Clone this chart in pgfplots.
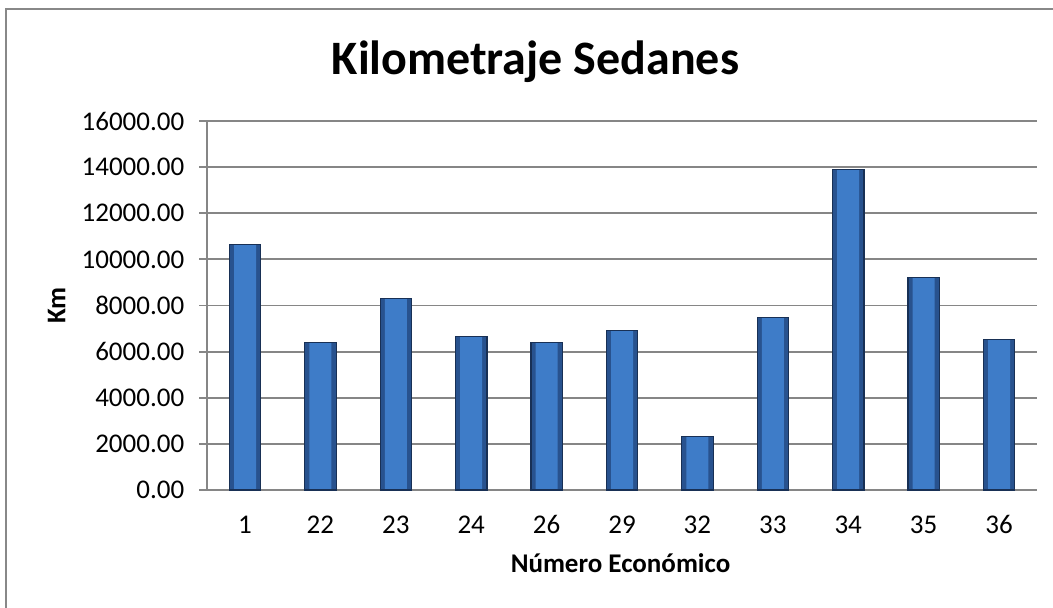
\documentclass[border=0pt]{standalone}
\usepackage{pgfplots}
\usepackage{pgfplotstable}
\pgfplotsset{compat=1.18}
\usepackage{fontspec}
\setmainfont{Carlito}
\definecolor{gridgray}{RGB}{134,134,134}
\definecolor{framegray}{RGB}{136,136,136}
\definecolor{barouter}{RGB}{40,82,142}
\definecolor{barinner}{RGB}{62,124,200}
\definecolor{bardraw}{RGB}{24,48,85}
\pgfplotstableread{
x y
0 10640
1 6395
2 8304
3 6655
4 6400
5 6911
6 2321
7 7476
8 13890
9 9228
10 6521
}\kmdata
\begin{document}
\begin{tikzpicture}
\useasboundingbox (-103.65pt,-58.5pt) rectangle (422.85pt,245pt);
\draw[framegray, line width=1pt] (-100.4pt,-60pt) -- (-100.4pt,240.75pt) -- (425pt,240.75pt);
\begin{axis}[
  at={(0,0)}, anchor=south west,
  scale only axis,
  width=414.7pt, height=184.5pt,
  xmin=-0.5, xmax=10.5,
  ymin=0, ymax=16000,
  ytick={0,2000,...,16000},
  xtick={0,...,10},
  xticklabels={1,22,23,24,26,29,32,33,34,35,36},
  axis lines=left,
  axis line style={-, gridgray, line width=0.9pt},
  ymajorgrids,
  grid style={gridgray, line width=0.9pt},
  y tick style={gridgray, line width=0.9pt},
  x tick style={draw=none},
  tick align=outside,
  major tick length=4pt,
  font=\fontsize{13.5pt}{16pt}\selectfont,
  /pgf/number format/assume math mode=true,
  /pgf/number format/fixed,
  /pgf/number format/fixed zerofill,
  /pgf/number format/precision=2,
  /pgf/number format/1000 sep={},
  scaled y ticks=false,
  yticklabel style={anchor=east, xshift=-4pt},
  xticklabel style={anchor=base, yshift=-17.5pt},
  ybar, bar shift=0pt,
  clip=false,
]
\addplot[bar width=15.7pt, draw=none, fill=barouter] table[x=x,y=y] {\kmdata};
\addplot[bar width=11pt, draw=none, fill=barinner] table[x=x,y=y] {\kmdata};
\addplot[bar width=15.7pt, draw=bardraw, line width=0.6pt, fill=none] table[x=x,y=y] {\kmdata};
\node[anchor=base, font=\fontsize{24pt}{29pt}\selectfont\bfseries] at (axis description cs:0.3957,1.1247) {Kilometraje Sedanes};
\node[anchor=base, font=\fontsize{13.5pt}{16pt}\selectfont\bfseries] at (axis description cs:0.4982,-0.2249) {Número Económico};
\node[anchor=center, rotate=90, font=\fontsize{13.5pt}{16pt}\selectfont\bfseries] at (axis description cs:-0.1818,0.5) {Km};
\end{axis}
\end{tikzpicture}
\end{document}
